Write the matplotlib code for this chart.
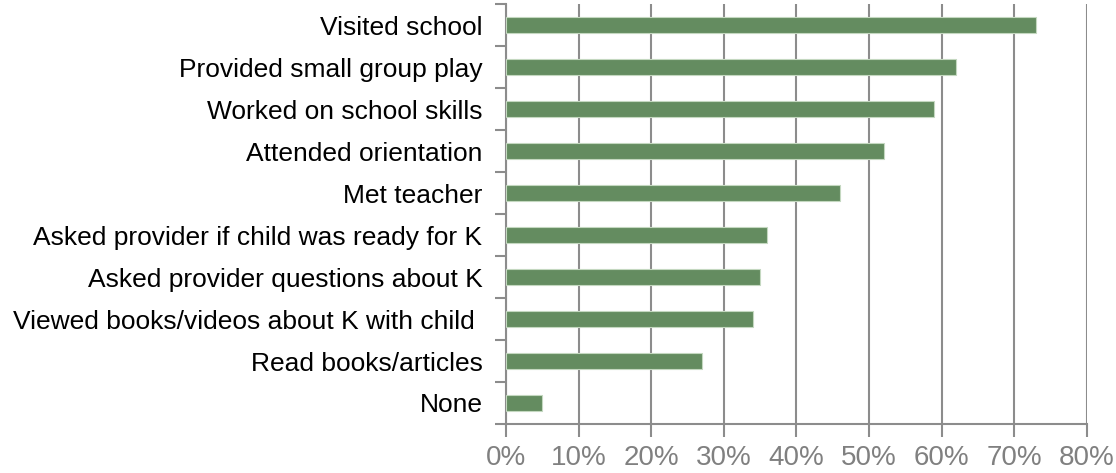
import matplotlib.pyplot as plt
from matplotlib.ticker import PercentFormatter

plt.rcParams['font.family'] = ['Liberation Sans', 'DejaVu Sans']

# Activities, listed top to bottom
activities = [
    "Visited school",
    "Provided small group play",
    "Worked on school skills",
    "Attended orientation",
    "Met teacher",
    "Asked provider if child was ready for K",
    "Asked provider questions about K",
    "Viewed books/videos about K with child ",
    "Read books/articles",
    "None",
]
percents = [73, 62, 59, 52, 46, 36, 35, 34, 27, 5]

bar_color = "#648c60"
grid_color = "#8c8c8c"

fig = plt.figure(figsize=(11.16, 4.73), dpi=100)
ax = fig.add_axes([0.4534, 0.1036, 0.5206, 0.8879])
ax.set_axisbelow(True)

ypos = list(range(len(activities)))[::-1]
ax.barh(ypos, percents, height=0.4, color=bar_color,
        edgecolor="#c4d8c0", linewidth=0.8, zorder=3)

ax.set_xlim(0, 80)
ax.set_ylim(-0.5, len(activities) - 0.5)
ax.set_xticks(range(0, 81, 10))
ax.xaxis.set_major_formatter(PercentFormatter(decimals=0))

# category labels centred on bars, tick marks at band boundaries
ax.set_yticks(ypos)
ax.set_yticklabels(activities)
ax.set_yticks([i - 0.5 for i in range(len(activities) + 1)], minor=True)
ax.tick_params(axis="y", which="major", length=0, pad=17,
               labelsize=19, labelcolor="black")
ax.tick_params(axis="y", which="minor", length=8, width=1.5, color=grid_color)
ax.tick_params(axis="x", length=9, width=1.5, color=grid_color,
               labelsize=20, labelcolor="#808080", pad=6)

ax.grid(axis="x", color=grid_color, linewidth=1.5)
for side in ("top", "right"):
    ax.spines[side].set_visible(False)
for side in ("left", "bottom"):
    ax.spines[side].set_color(grid_color)
    ax.spines[side].set_linewidth(1.5)

fig.savefig("out.png", dpi=100)
